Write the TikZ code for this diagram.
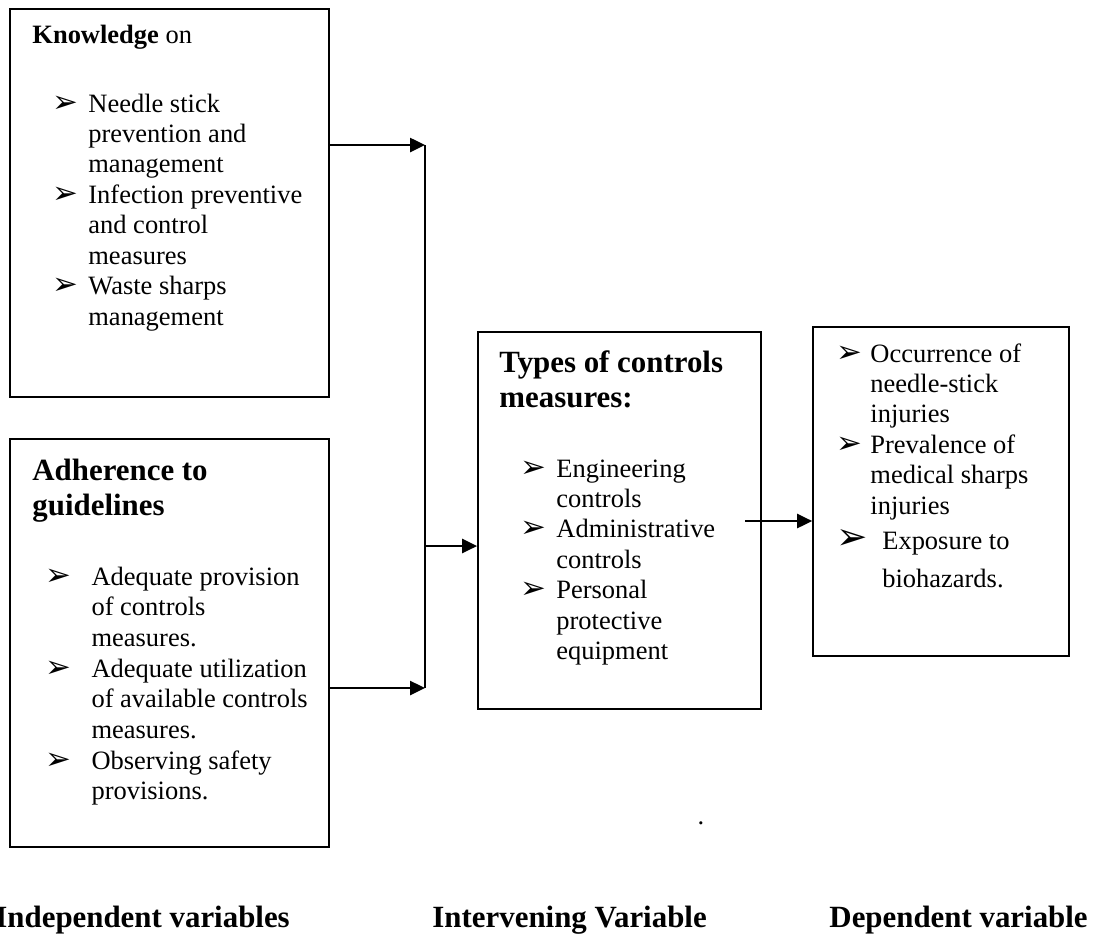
\documentclass[tikz,border=0pt]{standalone}
\usepackage{fontspec}
\setmainfont{Liberation Serif}
\newfontfamily\dingfont{DejaVu Sans}
\usetikzlibrary{arrows.meta}
\newcommand\bl[2][14]{\makebox[#2][l]{\dingfont\fontsize{#1}{#1}\selectfont ➢}}

\begin{document}
\begin{tikzpicture}[x=0.4533pt, y=-0.4533pt,
        varbox/.style={draw, line width=0.8pt, inner sep=0pt},
        txt/.style={anchor=base west, inner sep=0pt, font=\fontsize{12}{13.8}\selectfont},
        head/.style={txt, font=\fontsize{14}{16}\selectfont\bfseries},
        link/.style={line width=1pt, -{Triangle[length=6.8pt,width=6.4pt]}}]
            \useasboundingbox (0,0) rectangle (1103,935);
            % boxes
            \node[varbox, minimum width=144.6pt, minimum height=175.9pt] (kbox) at (169.5,203) {};
            \node[varbox, minimum width=144.6pt, minimum height=184.9pt] (abox) at (169.5,643) {};
            \node[varbox, minimum width=128.3pt, minimum height=170.9pt] (tbox) at (619.5,520.5) {};
            \node[varbox, minimum width=116.0pt, minimum height=149.1pt] (dbox) at (941,491.5) {};
            % texts
            \node[txt] (khead) at (32,43) {\textbf{Knowledge} on};
            \node[txt] (klist) at (52,112) {\begin{tabular}[t]{@{}l@{}l@{}}
                \bl{16.3pt} & Needle stick\\ & prevention and\\ & management\\
                \bl{16.3pt} & Infection preventive\\ & and control\\ & measures\\
                \bl{16.3pt} & Waste sharps\\ & management
            \end{tabular}};
            \node[head] (ahead) at (32,480) {\begin{tabular}[t]{@{}l@{}}
                \fontsize{14}{15.9}\selectfont Adherence to\\ guidelines
            \end{tabular}};
            \node[txt, font=\fontsize{12}{13.9}\selectfont] (alist) at (45,585) {\begin{tabular}[t]{@{}l@{}l@{}}
                \bl{20.9pt} & Adequate provision\\ & of controls\\ & measures.\\
                \bl{20.9pt} & Adequate utilization\\ & of available controls\\ & measures.\\
                \bl{20.9pt} & Observing safety\\ & provisions.
            \end{tabular}};
            \node[head] (thead) at (499,372) {\begin{tabular}[t]{@{}l@{}}
                \fontsize{14}{16.3}\selectfont Types of controls\\ measures:
            \end{tabular}};
            \node[txt] (tlist) at (520,477) {\begin{tabular}[t]{@{}l@{}l@{}}
                \bl{16.3pt} & Engineering\\ & controls\\
                \bl{16.3pt} & Administrative\\ & controls\\
                \bl{16.3pt} & Personal\\ & protective\\ & equipment
            \end{tabular}};
            \node[txt] (dlist) at (836,362) {\begin{tabular}[t]{@{}l@{}l@{}}
                \bl{15.4pt} & Occurrence of\\ & needle-stick\\ & injuries\\
                \bl{15.4pt} & Prevalence of\\ & medical sharps\\ & injuries\\[2.1pt]
                \bl[17]{15.4pt} & \hspace*{5.4pt}Exposure to\\[3.4pt] & \hspace*{5.4pt}biohazards.
            \end{tabular}};
            \node[txt, anchor=center] (dot) at (701,823) {.};
            % variable labels
            \node[head] (indep) at (-5,927) {Independent variables};
            \node[head] (inter) at (432,927) {Intervening Variable};
            \node[head] (dep) at (829,927) {Dependent variable};
            % connectors
            \coordinate (j1) at (425,145);
            \coordinate (j2) at (425,688);
            \coordinate (j3) at (425,546);
            \coordinate (t0) at (745,521);
            \draw[link] (kbox.east |- j1) -- (j1);
            \draw[link] (abox.east |- j2) -- (j2);
            \draw[line width=0.7pt] (j1) -- (j2);
            \draw[link] (j3) -- (tbox.west |- j3);
            \draw[link] (t0) -- (dbox.west |- t0);
        \end{tikzpicture}
\end{document}
